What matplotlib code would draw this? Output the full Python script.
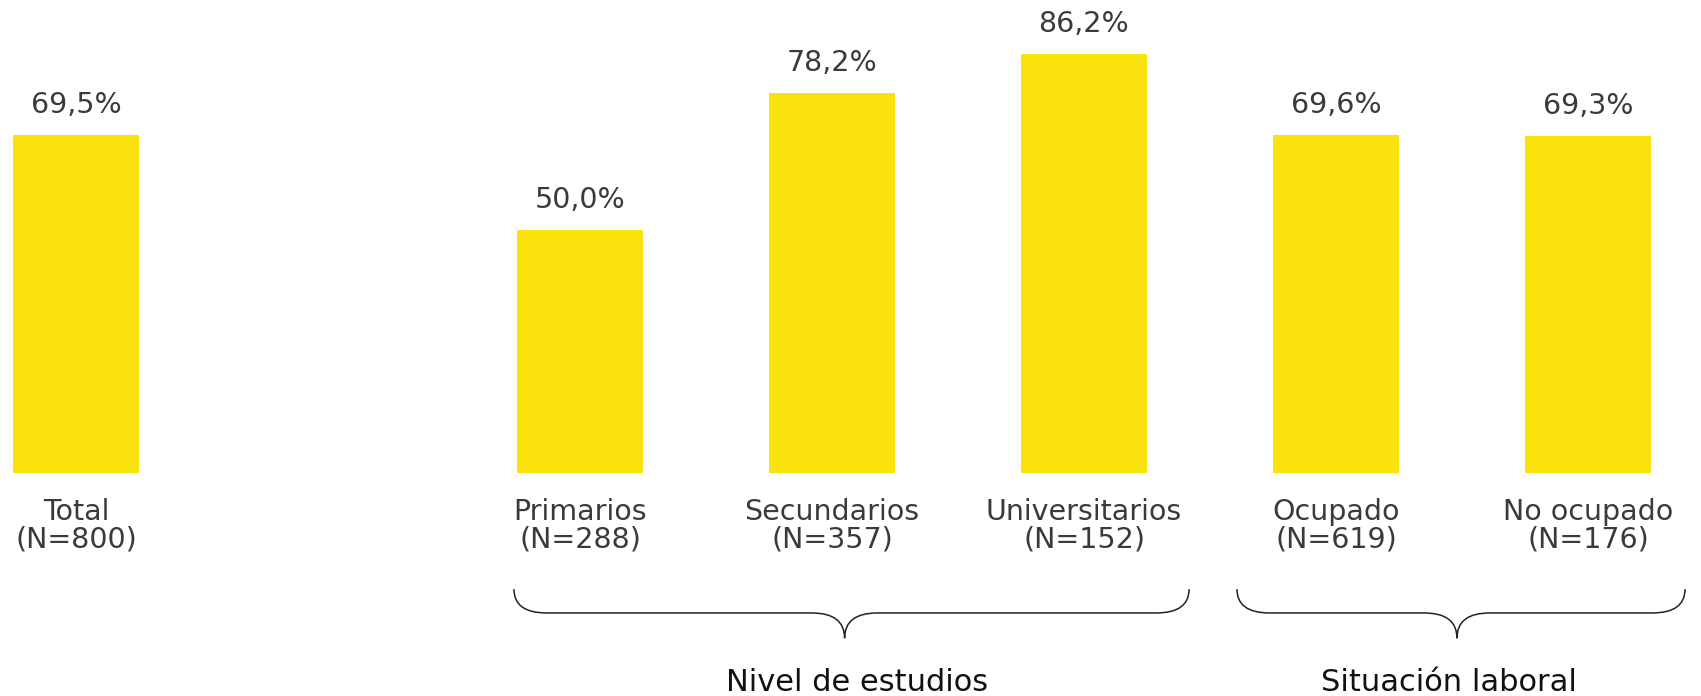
import matplotlib
matplotlib.use("Agg")
import matplotlib.pyplot as plt
from matplotlib.path import Path
from matplotlib.patches import PathPatch

categories = ["Total", "Primarios", "Secundarios", "Universitarios", "Ocupado", "No ocupado"]
n_labels = ["(N=800)", "(N=288)", "(N=357)", "(N=152)", "(N=619)", "(N=176)"]
values = [69.5, 50.0, 78.2, 86.2, 69.6, 69.3]
positions = [0, 2, 3, 4, 5, 6]
groups = ["Nivel de estudios", "Situación laboral"]

plt.rcParams['font.family'] = ['DejaVu Sans']
BAR = '#FAE20E'
TXT = '#3a3a3a'

fig = plt.figure(figsize=(17.01, 6.96), dpi=100)
ax = fig.add_axes([0, 223/696, 1, 473/696])
ax.set_xlim(-76/252, (1701-76)/252)
ax.set_ylim(0, 473/4.86)
ax.axis('off')

ax.bar(positions, values, width=0.5, color=BAR)

for p, v in zip(positions, values):
    ax.text(p, v + 6.2, f"{v:.1f}%".replace('.', ','), ha='center', va='center',
            fontsize=20.5, color=TXT)

for p, c, n in zip(positions, categories, n_labels):
    ax.text(p, -10.8, f"{c}\n{n}", ha='center', va='center', multialignment='center',
            fontsize=20.5, color=TXT, linespacing=0.98, clip_on=False)

def brace(xl, xr, xc, ytop, ymid, ytip, r):
    verts = [(xl, ytop), (xl, ymid), (xl + r, ymid),
             (xc - r, ymid),
             (xc, ymid), (xc, ytip),
             (xc, ymid), (xc + r, ymid),
             (xr - r, ymid),
             (xr, ymid), (xr, ytop)]
    codes = [Path.MOVETO, Path.CURVE3, Path.CURVE3,
             Path.LINETO,
             Path.CURVE3, Path.CURVE3,
             Path.CURVE3, Path.CURVE3,
             Path.LINETO,
             Path.CURVE3, Path.CURVE3]
    ax.add_patch(PathPatch(Path(verts, codes), fill=False, lw=1.1, color='#222222',
                           clip_on=False))

brace_spans = [(1.738, 4.417, 3.05), (4.607, 6.385, 5.48)]
label_x = [3.1, 5.45]
for (xl, xr, xc), g, lx in zip(brace_spans, groups, label_x):
    brace(xl, xr, xc, -23.9, -28.8, -34.0, 0.13)
    ax.text(lx, -43.2, g, ha='center', va='center', fontsize=22, color='#111111',
            clip_on=False)

fig.savefig("out.png", dpi=100)
